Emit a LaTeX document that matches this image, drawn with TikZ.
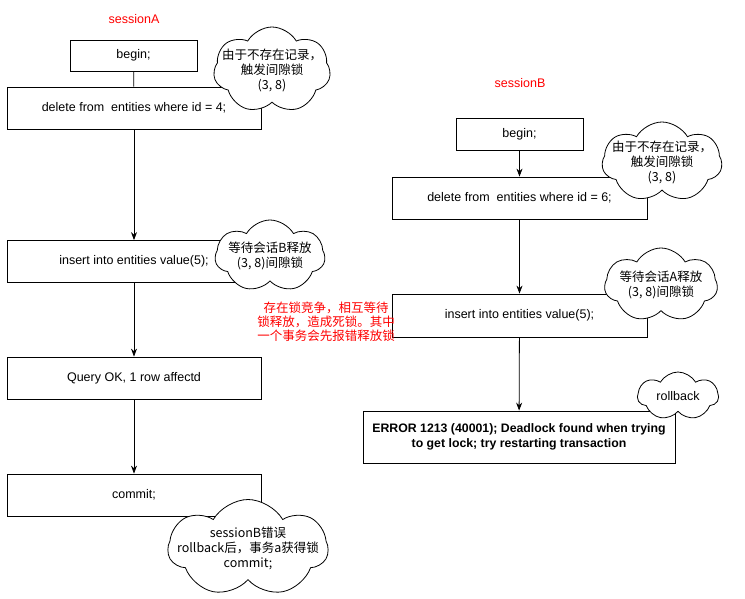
\documentclass[tikz,border=0pt]{standalone}
\usepackage{fontspec}
\setmainfont{Liberation Sans}
\newfontfamily\cjk{Noto Sans CJK SC}
\usetikzlibrary{shapes.symbols,arrows.meta}

\begin{document}
\begin{tikzpicture}
            [x=1pt,y=-1pt,line width=0.8pt,
             every node/.style={font=\fontsize{12.5}{15}\selectfont},
             box/.style={draw,fill=white,minimum width=254pt,minimum height=42pt},
             smallbox/.style={box,minimum width=127pt,minimum height=31pt},
             thought/.style={cloud,draw,fill=white,cloud puffs=7,cloud puff arc=120,
               cloud ignores aspect,inner xsep=-20pt,inner ysep=-12pt,align=center,
               font=\cjk\fontsize{12.5}{15}\selectfont},
             session/.style={text=red},
             flow/.style={-{Stealth[length=8pt,width=6pt]}}]
            \useasboundingbox (0,0) rectangle (745,598);
            % session A
            \node[session] (sA) at (134,19) {sessionA};
            \node[smallbox] (beginA) at (133.5,55.5) {begin;};
            \node[box] (delA) at (134,108) {delete from \ entities where id = 4;};
            \node[box] (insA) at (134,261.5) {insert into entities value(5);};
            \node[box] (okA) at (134,378) {Query OK, 1 row affectd};
            \node[box] (comA) at (134,495) {commit;};
            % session B
            \node[session] (sB) at (520,83) {sessionB};
            \node[smallbox,minimum height=32pt] (beginB) at (519.5,134) {begin;};
            \node[box,minimum width=255pt] (delB) at (519.5,198) {delete from \ entities where id = 6;};
            \node[box,minimum width=255pt,minimum height=43pt] (insB) at (519.5,315.5) {insert into entities value(5);};
            \node[box,minimum width=312pt,minimum height=52pt,align=center,
                  font=\bfseries\fontsize{12.3}{15}\selectfont] (errB) at (519,437)
                  {ERROR 1213 (40001); Deadlock found when trying\\to get lock; try restarting transaction};
            % the flow
            \draw (beginA) -- (delA);
            \draw[flow] (delA) -- (insA);
            \draw[flow] (insA) -- (okA);
            \draw[flow] (okA) -- (comA);
            \draw[flow] (beginB) -- (delB);
            \draw[flow] (delB) -- (insB);
            \draw[flow] (insB) -- (errB);
            % notes
            \node[thought,minimum width=117pt,minimum height=86pt] (gapA) at (272,70)
                  {由于不存在记录，\\触发间隙锁\\(3, 8)};
            \node[thought,minimum width=110pt,minimum height=72pt] (waitA) at (270,256)
                  {等待会话B释放\\(3, 8)间隙锁};
            \node[thought,minimum width=160pt,minimum height=97pt] (doneA) at (248,548)
                  {sessionB错误\\rollback后，事务a获得锁\\commit;};
            \node[thought,minimum width=120pt,minimum height=80pt] (gapB) at (662,162)
                  {由于不存在记录，\\触发间隙锁\\(3, 8)};
            \node[thought,minimum width=113pt,minimum height=74pt] (waitB) at (661,285)
                  {等待会话A释放\\(3, 8)间隙锁};
            \node[thought,minimum width=81pt,minimum height=48pt,font=\fontsize{12.5}{15}\selectfont] (rbB) at (678,396)
                  {rollback};
            \node[align=center,text=red,font=\cjk\fontsize{12.5}{14}\selectfont] (dead) at (326,322)
                  {存在锁竞争，相互等待\\锁释放，造成死锁。其中\\一个事务会先报错释放锁};
        \end{tikzpicture}
\end{document}
